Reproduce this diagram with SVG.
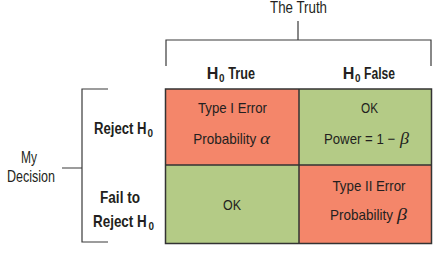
<svg xmlns="http://www.w3.org/2000/svg" width="442" height="254" viewBox="0 0 442 254">
  <style>
    .lbl { font-family: "Liberation Sans", Arial, sans-serif; fill: #231f20; }
    .mid { text-anchor: middle; }
    .hd { font-size: 16px; font-weight: bold; }
    .sd { font-size: 16px; }
    .cell { font-size: 15px; }
    .sub { font-size: 11px; font-weight: bold; }
    .greek { font-family: "Liberation Serif", "DejaVu Serif", serif; font-style: italic; font-size: 16px; fill: #231f20; }
    .brk { fill: none; stroke: #3a3a3a; stroke-width: 1.2; }
    .err { fill: #f4866a; }
    .ok { fill: #b4cb86; }
    .grid { fill: none; stroke: #333; stroke-width: 1.5; }
  </style>

  <!-- brackets -->
  <g id="connectors">
    <path class="brk" d="M166 66 V40 H431 V66 M298 21 V40"/>
    <path class="brk" d="M108 89 H82 V242 H108 M62 168 H82"/>
  </g>

  <!-- column headers -->
  <g id="truth">
    <text class="lbl mid sd" x="298.5" y="13" textLength="57" lengthAdjust="spacingAndGlyphs">The Truth</text>
  </g>
  <g id="h0-true">
    <text class="lbl hd" x="206.7" y="79" textLength="11.6" lengthAdjust="spacingAndGlyphs">H</text>
    <text class="lbl sub" x="219" y="82" textLength="5.5" lengthAdjust="spacingAndGlyphs">0</text>
    <text class="lbl hd" x="228.3" y="79" textLength="26.7" lengthAdjust="spacingAndGlyphs">True</text>
  </g>
  <g id="h0-false">
    <text class="lbl hd" x="342.7" y="79" textLength="11.6" lengthAdjust="spacingAndGlyphs">H</text>
    <text class="lbl sub" x="355" y="82" textLength="5.5" lengthAdjust="spacingAndGlyphs">0</text>
    <text class="lbl hd" x="364" y="79" textLength="31" lengthAdjust="spacingAndGlyphs">False</text>
  </g>

  <!-- row headers -->
  <g id="decision">
    <text class="lbl mid sd" x="29" y="163" textLength="16" lengthAdjust="spacingAndGlyphs">My</text>
    <text class="lbl mid sd" x="31" y="182" textLength="48" lengthAdjust="spacingAndGlyphs">Decision</text>
  </g>
  <g id="reject">
    <text class="lbl hd" transform="translate(94 134) scale(0.82 1)">Reject H</text>
    <text class="lbl sub" x="147.5" y="137" textLength="5.5" lengthAdjust="spacingAndGlyphs">0</text>
  </g>
  <g id="fail-to-reject">
    <text class="lbl mid hd" x="120" y="203" textLength="40" lengthAdjust="spacingAndGlyphs">Fail to</text>
    <text class="lbl hd" transform="translate(93 227) scale(0.84 1)">Reject H</text>
    <text class="lbl sub" x="148.5" y="230" textLength="5.5" lengthAdjust="spacingAndGlyphs">0</text>
  </g>

  <!-- outcome cells -->
  <g id="type1">
    <rect class="err" x="165.5" y="89" width="133.5" height="76"/>
    <text class="lbl mid cell" x="232.5" y="113" textLength="69" lengthAdjust="spacingAndGlyphs">Type I Error</text>
    <text class="lbl cell" transform="translate(193.3 144) scale(0.9 1)">Probability</text>
    <text class="greek" x="260" y="144" textLength="10" lengthAdjust="spacingAndGlyphs">α</text>
  </g>
  <g id="power">
    <rect class="ok" x="299" y="89" width="132.5" height="76"/>
    <text class="lbl mid cell" x="369.5" y="113" textLength="17" lengthAdjust="spacingAndGlyphs">OK</text>
    <text class="lbl cell" transform="translate(324 144) scale(0.88 1)">Power = 1 −</text>
    <text class="greek" x="400" y="144" textLength="9" lengthAdjust="spacingAndGlyphs">β</text>
  </g>
  <g id="correct">
    <rect class="ok" x="165.5" y="165" width="133.5" height="78.5"/>
    <text class="lbl mid cell" x="232" y="210" textLength="18" lengthAdjust="spacingAndGlyphs">OK</text>
  </g>
  <g id="type2">
    <rect class="err" x="299" y="165" width="132.5" height="78.5"/>
    <text class="lbl mid cell" x="369" y="191" textLength="73" lengthAdjust="spacingAndGlyphs">Type II Error</text>
    <text class="lbl cell" transform="translate(330 220) scale(0.9 1)">Probability</text>
    <text class="greek" x="397" y="220" textLength="10" lengthAdjust="spacingAndGlyphs">β</text>
  </g>

  <!-- table rules -->
  <g id="table-lines">
    <rect class="grid" x="165.5" y="89" width="266" height="154.5"/>
    <path class="grid" d="M299 89 V243.5 M165.5 165 H431.5"/>
  </g>
</svg>
